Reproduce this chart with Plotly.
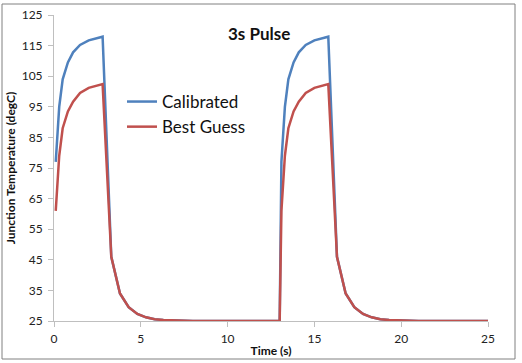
import plotly.graph_objects as go

# Time (s)
time = [0.1, 0.3, 0.5, 0.8, 1.1, 1.5, 2.0, 2.4, 2.8,
        3.3, 3.8, 4.3, 4.8, 5.3, 5.8, 6.3, 6.8, 7.3, 8.0, 9.0, 10.0, 11.0, 12.0, 13.0,
        13.1, 13.3, 13.5, 13.8, 14.1, 14.5, 15.0, 15.4, 15.8,
        16.3, 16.8, 17.3, 17.8, 18.3, 18.8, 19.3, 19.8, 20.3, 21.0, 22.0, 23.0, 24.0, 25.0]

calibrated = [77, 95, 104, 109.5, 112.8, 115.2, 116.7, 117.4, 117.9,
              46, 34, 29.5, 27.3, 26.2, 25.6, 25.3, 25.15, 25.05, 25, 25, 25, 25, 25, 25,
              77, 95, 104, 109.5, 112.8, 115.2, 116.7, 117.4, 117.9,
              46, 34, 29.5, 27.3, 26.2, 25.6, 25.3, 25.15, 25.05, 25, 25, 25, 25, 25]

best_guess = [61, 79, 88, 93.5, 96.7, 99.5, 101.2, 101.9, 102.4,
              46, 34, 29.5, 27.3, 26.2, 25.6, 25.3, 25.15, 25.05, 25, 25, 25, 25, 25, 25,
              61, 79, 88, 93.5, 96.7, 99.5, 101.2, 101.9, 102.4,
              46, 34, 29.5, 27.3, 26.2, 25.6, 25.3, 25.15, 25.05, 25, 25, 25, 25, 25]

x_ticks = [0, 5, 10, 15, 20, 25]
y_ticks = [25, 35, 45, 55, 65, 75, 85, 95, 105, 115, 125]

FONT = "Lato"
W, H = 522, 363
L, R, T, B = 54, 34, 15, 42
pw, ph = W - L - R, H - T - B

def px(xp):
    return (xp - L) / pw

def py(yp):
    return (H - B - yp) / ph

fig = go.Figure()
fig.add_trace(go.Scatter(x=time, y=calibrated, mode="lines", name="Calibrated",
                         line=dict(color="#4F81BD", width=2.5)))
fig.add_trace(go.Scatter(x=time, y=best_guess, mode="lines", name="Best Guess",
                         line=dict(color="#C0504D", width=2.5)))

axis_common = dict(showline=True, linecolor="#BFBFBF", linewidth=1, ticks="outside",
                   ticklen=5, tickcolor="#BFBFBF", showgrid=False, zeroline=False,
                   automargin=False,
                   tickfont=dict(family=FONT, size=12, color="#222"))

fig.update_xaxes(range=[0, 25], tickvals=x_ticks, **axis_common, ticklabelstandoff=2,
                 title=dict(text="<b>Time (s)</b>", font=dict(family=FONT, size=12, color="#111"),
                            standoff=1))
fig.update_yaxes(range=[25, 125], tickvals=y_ticks, **axis_common, ticklabelstandoff=3,
                 title=dict(text="<b>Junction Temperature (degC)</b>",
                            font=dict(family=FONT, size=12, color="#111"), standoff=3))

fig.add_annotation(text="<b>3s Pulse</b>", xref="paper", yref="paper",
                   x=px(259), y=py(21), showarrow=False,
                   font=dict(family=FONT, size=17, color="#111"))

fig.add_shape(type="rect", xref="paper", yref="paper",
              x0=px(2), x1=px(515), y0=py(359), y1=py(4),
              line=dict(color="#808080", width=1), fillcolor="rgba(0,0,0,0)", layer="below")

fig.update_layout(
    width=W, height=H,
    margin=dict(l=L, r=R, t=T, b=B, autoexpand=False),
    paper_bgcolor="white", plot_bgcolor="white",
    showlegend=True,
    legend=dict(x=px(122), y=py(84), xanchor="left", yanchor="top",
                font=dict(family=FONT, size=17, color="#111"),
                bgcolor="rgba(0,0,0,0)", itemwidth=30, tracegroupgap=0),
)

fig.write_html("out.html", config={"displayModeBar": False},
               post_script="document.body.style.margin='0';document.body.style.overflow='hidden';")
